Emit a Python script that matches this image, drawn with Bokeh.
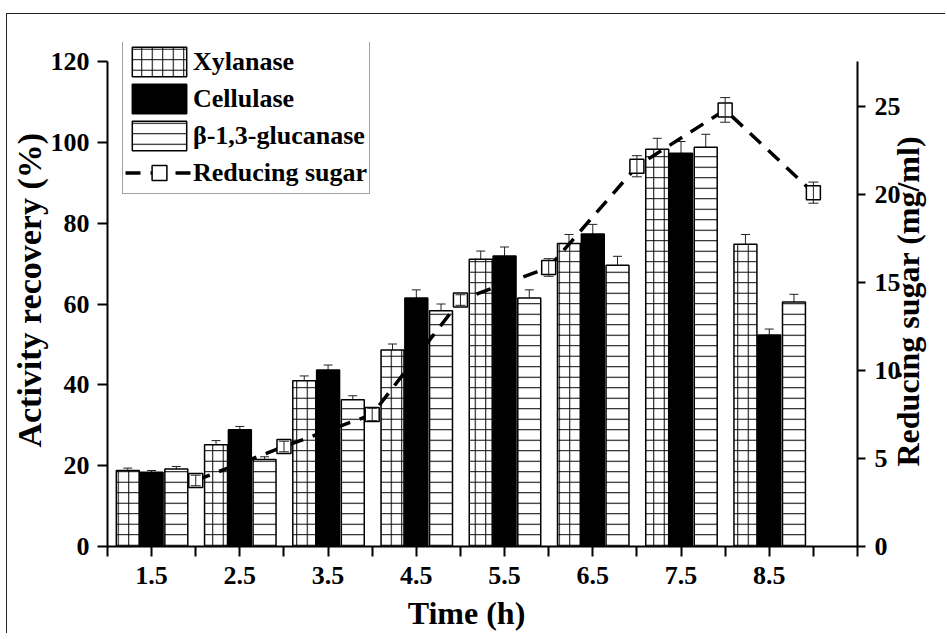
import math
from bokeh.plotting import figure
from bokeh.models import (Range1d, LinearAxis, FixedTicker, Whisker, TeeHead,
                          ColumnDataSource, Legend, LegendItem)
from bokeh.transform import dodge
from bokeh.embed import file_html
from bokeh.resources import INLINE

# ---------------- data ----------------
times = [1.5, 2.5, 3.5, 4.5, 5.5, 6.5, 7.5, 8.5]
xylanase = [18.8, 25.2, 41.0, 48.6, 71.1, 75.0, 98.3, 74.8]
xylanase_err = [0.6, 1.0, 1.2, 1.5, 2.0, 2.2, 2.7, 2.4]
cellulase = [18.4, 28.9, 43.7, 61.5, 71.9, 77.3, 97.3, 52.3]
cellulase_err = [0.4, 0.8, 1.2, 2.0, 2.2, 2.4, 2.9, 1.5]
glucanase = [19.2, 21.5, 36.3, 58.3, 61.5, 69.6, 98.8, 60.5]
glucanase_err = [0.6, 0.7, 1.0, 1.7, 2.0, 2.2, 3.2, 1.9]

sugar_times = [2.0, 3.0, 4.0, 5.0, 6.0, 7.0, 8.0, 9.0]
sugar = [3.75, 5.68, 7.5, 14.0, 15.85, 21.6, 24.8, 20.1]
sugar_err = [0.3, 0.3, 0.35, 0.3, 0.5, 0.6, 0.7, 0.6]

x_minor_ticks = [1.0, 2.0, 3.0, 4.0, 5.0, 6.0, 7.0, 8.0, 9.0, 9.5]
left_ticks = [0, 20, 40, 60, 80, 100, 120]
right_ticks = [0, 5, 10, 15, 20, 25]

FONT = "Liberation Serif"

LEFT_MAX = 120.0
RIGHT_MAX = 27.55
EXTRA = 504.0 / 485.0   # room above the axes for the legend

# ---------------- figure ----------------
p = figure(width=939, height=620, output_backend="svg", toolbar_location=None,
           x_range=Range1d(1.0, 9.5), y_range=Range1d(0, LEFT_MAX * EXTRA),
           min_border_left=100, min_border_right=89, min_border_top=28,
           min_border_bottom=88)
p.extra_y_ranges = {"sugar": Range1d(0, RIGHT_MAX * EXTRA)}
p.margin = (13, 0, 0, 6)
p.styles = {"border-top": "1.5px solid #222", "border-left": "1.5px solid #222"}
p.outline_line_color = None
p.xgrid.visible = False
p.ygrid.visible = False
p.background_fill_color = "white"
p.border_fill_color = "white"

src = ColumnDataSource(dict(
    t=times,
    xyl=xylanase, xyl_lo=[v - e for v, e in zip(xylanase, xylanase_err)],
    xyl_hi=[v + e for v, e in zip(xylanase, xylanase_err)],
    cel=cellulase, cel_lo=[v - e for v, e in zip(cellulase, cellulase_err)],
    cel_hi=[v + e for v, e in zip(cellulase, cellulase_err)],
    glu=glucanase, glu_lo=[v - e for v, e in zip(glucanase, glucanase_err)],
    glu_hi=[v + e for v, e in zip(glucanase, glucanase_err)],
))
ssrc = ColumnDataSource(dict(
    t=sugar_times, s=sugar,
    lo=[v - e for v, e in zip(sugar, sugar_err)],
    hi=[v + e for v, e in zip(sugar, sugar_err)],
))

BW = 0.26
OFF_L, OFF_R = -0.27, 0.28

r_xyl = p.vbar(x=dodge("t", OFF_L, range=p.x_range), top="xyl", width=BW, source=src,
               fill_color="white", line_color="black", line_width=1.5,
               hatch_pattern="cross", hatch_scale=10.5, hatch_color="black",
               hatch_weight=1)
r_cel = p.vbar(x="t", top="cel", width=BW, source=src,
               fill_color="black", line_color="black", line_width=1.5)
r_glu = p.vbar(x=dodge("t", OFF_R, range=p.x_range), top="glu", width=BW, source=src,
               fill_color="white", line_color="black", line_width=1.5,
               hatch_pattern="horizontal_line", hatch_scale=10.5, hatch_color="black",
               hatch_weight=1)

for off, lo, hi in [(OFF_L, "xyl_lo", "xyl_hi"), (0.0, "cel_lo", "cel_hi"),
                    (OFF_R, "glu_lo", "glu_hi")]:
    w = Whisker(source=src, base=dodge("t", off, range=p.x_range), lower=lo, upper=hi,
                dimension="height", line_color="#222", line_width=1,
                upper_head=TeeHead(size=9, line_color="#222", line_width=1),
                lower_head=TeeHead(size=9, line_color="#222", line_width=1))
    p.add_layout(w)

r_line = p.line(x="t", y="s", source=ssrc, y_range_name="sugar", line_color="black",
                line_width=3.5, line_dash="15 10")
r_pts = p.scatter(x="t", y="s", source=ssrc, y_range_name="sugar", marker="square",
                  size=14, fill_color="white", line_color="black", line_width=1.5)
ws = Whisker(source=ssrc, base="t", lower="lo", upper="hi", y_range_name="sugar",
             dimension="height", line_color="#222", line_width=1, level="overlay",
             upper_head=TeeHead(size=10, line_color="#222", line_width=1),
             lower_head=TeeHead(size=10, line_color="#222", line_width=1))
p.add_layout(ws)

# ---------------- axes ----------------
def style_axis(ax):
    ax.axis_line_width = 2
    ax.axis_line_color = "black"
    ax.major_tick_line_width = 2
    ax.major_tick_line_color = "black"
    ax.major_tick_in = 0
    ax.major_label_text_font = FONT
    ax.major_label_text_font_style = "bold"
    ax.major_label_text_font_size = "26px"
    ax.major_label_text_color = "black"
    ax.axis_label_text_font = FONT
    ax.axis_label_text_font_style = "bold"
    ax.axis_label_text_font_size = "32px"
    ax.axis_label_text_color = "black"

xa = p.xaxis[0]
style_axis(xa)
xa.ticker = FixedTicker(ticks=times, minor_ticks=x_minor_ticks)
xa.major_tick_out = 10
xa.minor_tick_out = 10
xa.minor_tick_in = 0
xa.minor_tick_line_width = 2
xa.minor_tick_line_color = "black"
xa.major_label_standoff = 10
xa.axis_label = "Time (h)" + "\u00a0" * 4
xa.axis_label_standoff = 8

ya = p.yaxis[0]
style_axis(ya)
ya.ticker = FixedTicker(ticks=left_ticks)
ya.bounds = (0, LEFT_MAX)
ya.minor_tick_line_color = None
ya.major_tick_out = 10
ya.major_label_standoff = 8
ya.axis_label = "\u00a0" + "Activity recovery (%)"
ya.axis_label_text_font_size = "34px"
ya.axis_label_standoff = 0

yr = LinearAxis(y_range_name="sugar")
style_axis(yr)
yr.ticker = FixedTicker(ticks=right_ticks)
yr.bounds = (0, RIGHT_MAX)
yr.minor_tick_line_color = None
yr.major_tick_out = 8
yr.major_label_standoff = 9
yr.axis_label = "\u00a0" * 10 + "Reducing sugar (mg/ml)"
yr.axis_label_standoff = 4
props = yr.properties()
if "axis_label_orientation" in props:
    yr.axis_label_orientation = math.pi / 2
if "axis_label_align" in props:
    yr.axis_label_align = "start"
p.add_layout(yr, "right")

# ---------------- legend ----------------
legend = Legend(items=[
    LegendItem(label="Xylanase", renderers=[r_xyl]),
    LegendItem(label="Cellulase", renderers=[r_cel]),
    LegendItem(label="β-1,3-glucanase", renderers=[r_glu]),
    LegendItem(label="Reducing sugar", renderers=[r_line, r_pts]),
], location=(15, 352))
legend.border_line_color = "#444"
legend.border_line_width = 1
legend.background_fill_color = "white"
legend.background_fill_alpha = 1
legend.glyph_width = 68
legend.glyph_height = 37
legend.label_standoff = 0
legend.label_text_font = FONT
legend.label_text_font_style = "bold"
legend.label_text_font_size = "26px"
legend.label_text_color = "black"
legend.padding = 2
legend.spacing = 0
legend.margin = 0
p.add_layout(legend)

open("out.html", "w").write(file_html(p, INLINE))
